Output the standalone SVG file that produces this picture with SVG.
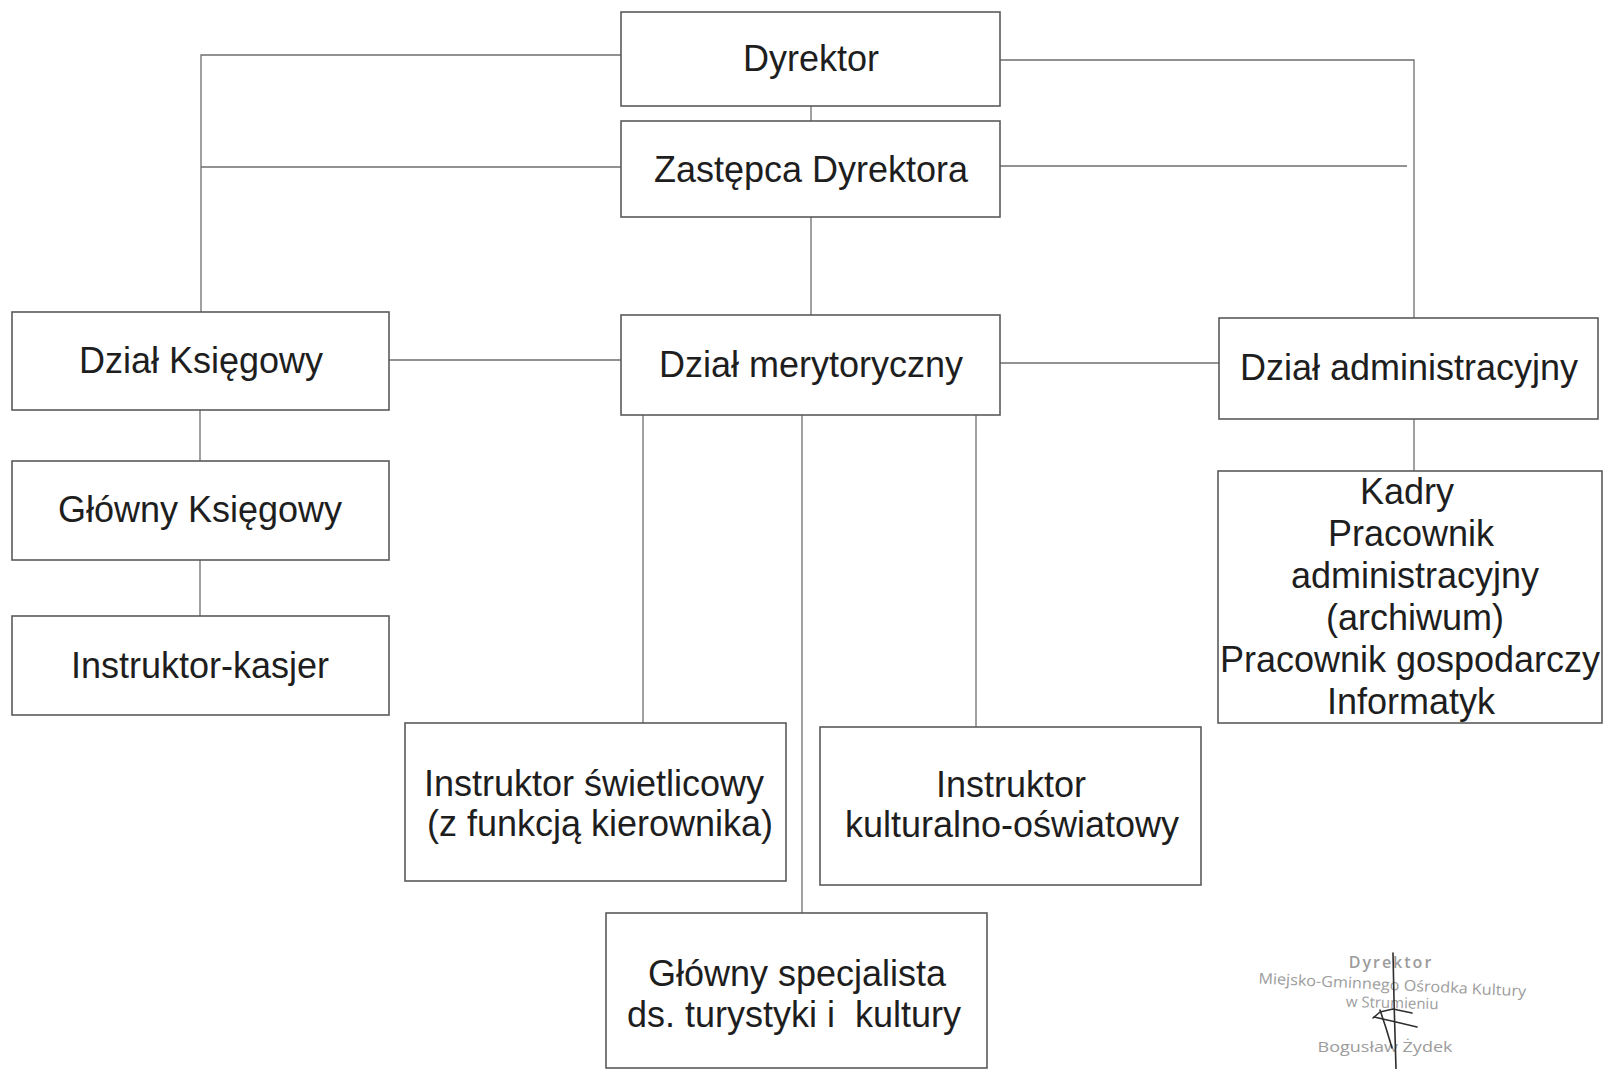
<svg xmlns="http://www.w3.org/2000/svg" width="1607" height="1069" viewBox="0 0 1607 1069">
<style>
  .box { fill: #ffffff; stroke: #5a5a5a; stroke-width: 1.6; }
  .lbl { font-family: "Liberation Sans", Arial, sans-serif; font-size: 36px; fill: #1e1e1e; text-anchor: middle; }
  .conn { fill: none; stroke: #6e6e6e; stroke-width: 1.3; }
  .stamp { font-family: "Open Sans", "DejaVu Sans", sans-serif; fill: #9c9c9c; text-anchor: middle; }
  .sig { fill: none; stroke: #2e2e2e; stroke-width: 1.6; stroke-linecap: round; stroke-linejoin: round; }
</style>
<rect x="0" y="0" width="1607" height="1069" fill="#ffffff"/>

<g id="connectors">
  <path class="conn" d="M 621 55 H 201 V 312"/>
  <path class="conn" d="M 621 167 H 201"/>
  <path class="conn" d="M 1000 60 H 1414 V 318"/>
  <path class="conn" d="M 1000 166 H 1407"/>
  <path class="conn" d="M 811 106 V 121"/>
  <path class="conn" d="M 811 217 V 315"/>
  <path class="conn" d="M 389 360 H 621"/>
  <path class="conn" d="M 1000 363 H 1219"/>
  <path class="conn" d="M 200 410 V 461"/>
  <path class="conn" d="M 200 560 V 616"/>
  <path class="conn" d="M 1414 419 V 471"/>
  <path class="conn" d="M 643 415 V 723"/>
  <path class="conn" d="M 802 415 V 913"/>
  <path class="conn" d="M 976 415 V 727"/>
</g>

<g id="node-dyrektor">
  <rect class="box" x="621" y="12" width="379" height="94"/>
  <text class="lbl" x="811" y="71">Dyrektor</text>
</g>
<g id="node-zastepca">
  <rect class="box" x="621" y="121" width="379" height="96"/>
  <text class="lbl" x="811" y="182">Zastępca Dyrektora</text>
</g>
<g id="node-dzial-ksiegowy">
  <rect class="box" x="12" y="312" width="377" height="98"/>
  <text class="lbl" x="201" y="373">Dział Księgowy</text>
</g>
<g id="node-dzial-merytoryczny">
  <rect class="box" x="621" y="315" width="379" height="100"/>
  <text class="lbl" x="811" y="377">Dział merytoryczny</text>
</g>
<g id="node-dzial-administracyjny">
  <rect class="box" x="1219" y="318" width="379" height="101"/>
  <text class="lbl" x="1409" y="380">Dział administracyjny</text>
</g>
<g id="node-glowny-ksiegowy">
  <rect class="box" x="12" y="461" width="377" height="99"/>
  <text class="lbl" x="200" y="522">Główny Księgowy</text>
</g>
<g id="node-instruktor-kasjer">
  <rect class="box" x="12" y="616" width="377" height="99"/>
  <text class="lbl" x="200" y="678">Instruktor-kasjer</text>
</g>
<g id="node-kadry">
  <rect class="box" x="1218" y="471" width="384" height="252"/>
  <text class="lbl" x="1407" y="504">Kadry</text>
  <text class="lbl" x="1411" y="546">Pracownik</text>
  <text class="lbl" x="1415" y="588">administracyjny</text>
  <text class="lbl" x="1415" y="630">(archiwum)</text>
  <text class="lbl" x="1410" y="672">Pracownik gospodarczy</text>
  <text class="lbl" x="1411" y="714">Informatyk</text>
</g>
<g id="node-instruktor-swietlicowy">
  <rect class="box" x="405" y="723" width="381" height="158"/>
  <text class="lbl" x="594" y="796">Instruktor świetlicowy</text>
  <text class="lbl" x="600" y="836">(z funkcją kierownika)</text>
</g>
<g id="node-instruktor-kulturalno">
  <rect class="box" x="820" y="727" width="381" height="158"/>
  <text class="lbl" x="1011" y="797">Instruktor</text>
  <text class="lbl" x="1012" y="837">kulturalno-oświatowy</text>
</g>
<g id="node-glowny-specjalista">
  <rect class="box" x="606" y="913" width="381" height="155"/>
  <text class="lbl" x="797" y="986">Główny specjalista</text>
  <text class="lbl" xml:space="preserve" x="794" y="1027">ds. turystyki i  kultury</text>
</g>

<g id="stamp">
  <text class="stamp" x="1391" y="968" font-size="16" font-weight="600" letter-spacing="2" fill="#858585">Dyrektor</text>
  <text class="stamp" x="1392" y="990" font-size="15" textLength="268" lengthAdjust="spacingAndGlyphs" transform="rotate(2.8 1392 990)">Miejsko-Gminnego Ośrodka Kultury</text>
  <text class="stamp" x="1392" y="1008" font-size="15" transform="rotate(1.5 1392 1008)">w Strumieniu</text>
  <text class="stamp" x="1385" y="1052" font-size="15" textLength="135" lengthAdjust="spacingAndGlyphs">Bogusław Żydek</text>
  <path class="sig" d="M 1393 953 L 1394 1000 L 1396 1069"/>
  <path class="sig" d="M 1373 1018 L 1380 1012 L 1393 1009 L 1412 1013"/>
  <path class="sig" d="M 1380 1010 L 1386 1028 L 1392 1048"/>
  <path class="sig" d="M 1374 1017 L 1396 1022 L 1417 1027"/>
</g>
</svg>
